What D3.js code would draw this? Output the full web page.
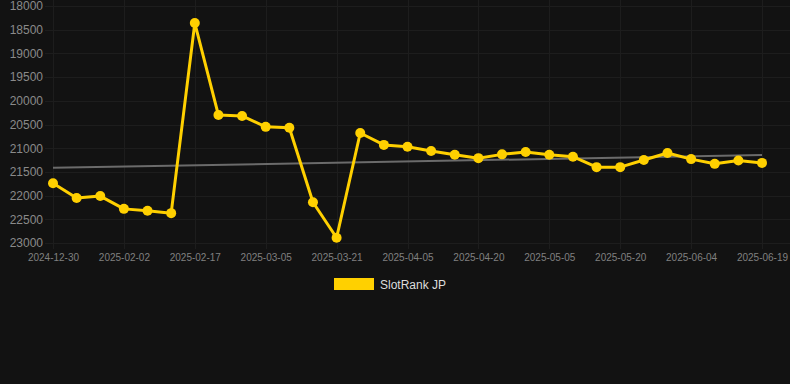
<!DOCTYPE html>
<html><head><meta charset="utf-8">
<script src="https://cdn.jsdelivr.net/npm/d3@7"></script>
<style>
html,body{margin:0;padding:0;background:#121212;}
svg{display:block;}
</style></head>
<body>
<script>
const dates = ["2024-12-30","2025-01-13","2025-01-22","2025-02-02","2025-02-07","2025-02-12","2025-02-17","2025-02-22","2025-02-27","2025-03-05","2025-03-10","2025-03-16","2025-03-21","2025-03-26","2025-03-31","2025-04-05","2025-04-10","2025-04-15","2025-04-20","2025-04-25","2025-04-30","2025-05-05","2025-05-10","2025-05-15","2025-05-20","2025-05-25","2025-05-30","2025-06-04","2025-06-09","2025-06-14","2025-06-19"];
const rankValues = [21740,22050,22010,22280,22320,22370,18360,20300,20320,20550,20570,22140,22890,20680,20930,20970,21060,21140,21210,21130,21080,21140,21180,21400,21400,21250,21100,21230,21330,21260,21310];
const trendValues = [21415, 21145];
const yTicks = [18000,18500,19000,19500,20000,20500,21000,21500,22000,22500,23000];
const seriesName = "SlotRank JP";

(function () {
const W = 790, H = 384;
const mLeft = 53, mRight = 762, mTop = 6, mBottom = 243;
const svg = d3.select("body").append("svg").attr("width", W).attr("height", H);
svg.append("rect").attr("width", W).attr("height", H).attr("fill", "#121212");

const x = d3.scalePoint().domain(dates).range([mLeft, mRight]);
const y = d3.scaleLinear().domain([18000, 23000]).range([mTop, mBottom]);

const labeled = dates.filter((d, i) => i % 3 === 0);

// grid
const grid = "#1d1d1d";
const g = svg.append("g");
g.selectAll("line.h").data(yTicks).join("line")
  .attr("x1", mLeft - 8).attr("x2", W)
  .attr("y1", d => Math.round(y(d)) + 0.5).attr("y2", d => Math.round(y(d)) + 0.5)
  .attr("stroke", grid).attr("stroke-width", 1);
g.selectAll("line.v").data(labeled).join("line")
  .attr("x1", d => Math.round(x(d)) + 0.5).attr("x2", d => Math.round(x(d)) + 0.5)
  .attr("y1", 0).attr("y2", mBottom + 6)
  .attr("stroke", grid).attr("stroke-width", 1);

// y axis
const yAxis = d3.axisLeft(y).tickValues(yTicks).tickSize(0).tickPadding(0).tickFormat(d3.format("d"));
const ya = svg.append("g").attr("transform", `translate(${mLeft - 10},0)`).call(yAxis);
ya.select(".domain").remove();
ya.selectAll("text").attr("fill", "#8a8a8a").attr("font-size", "12px").attr("font-family", "Liberation Sans, Arial, sans-serif");

// x axis
const xAxis = d3.axisBottom(x).tickValues(labeled).tickSize(0).tickPadding(0);
const xa = svg.append("g").attr("transform", `translate(0,${mBottom + 11})`).call(xAxis);
xa.select(".domain").remove();
xa.selectAll("text").attr("fill", "#808080").attr("font-size", "10px").attr("font-family", "Liberation Sans, Arial, sans-serif");

// trend line
svg.append("line")
  .attr("x1", x(dates[0])).attr("x2", x(dates[dates.length - 1]))
  .attr("y1", y(trendValues[0])).attr("y2", y(trendValues[1]))
  .attr("stroke", "#6b6b6b").attr("stroke-width", 2);

// series line
const color = "#FFD000";
svg.append("path").datum(rankValues)
  .attr("fill", "none").attr("stroke", color).attr("stroke-width", 3).attr("stroke-linejoin", "round")
  .attr("d", d3.line().x((d, i) => x(dates[i])).y(d => y(d)));
svg.selectAll("circle.pt").data(rankValues).join("circle")
  .attr("cx", (d, i) => x(dates[i])).attr("cy", d => y(d)).attr("r", 5)
  .attr("fill", color);

// legend
const lg = svg.append("g");
lg.append("rect").attr("x", 334).attr("y", 278).attr("width", 40).attr("height", 12).attr("fill", color);
lg.append("text").attr("x", 380).attr("y", 288.5).text(seriesName)
  .attr("fill", "#dddddd").attr("font-size", "12px").attr("font-family", "Liberation Sans, Arial, sans-serif");
})();
</script>
</body></html>
